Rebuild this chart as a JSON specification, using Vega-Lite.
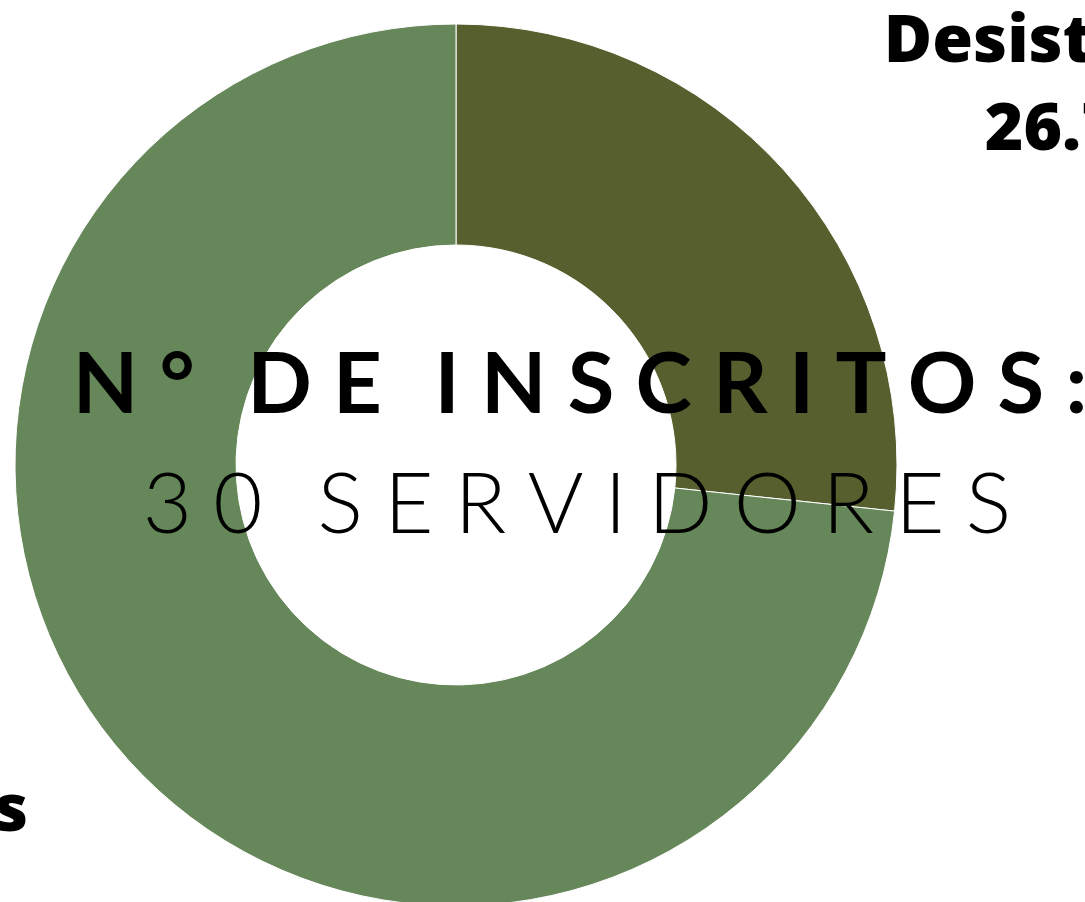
{
  "$schema": "https://vega.github.io/schema/vega-lite/v6.json",
  "width": 882,
  "height": 882,
  "autosize": {"type": "none"},
  "padding": {"left": 15, "top": 24, "right": 188, "bottom": 0},
  "background": "#ffffff",
  "config": {"view": {"stroke": null}},
  "datasets": {
    "fatias": [
      {"categoria": "Desistentes", "valor": 8, "rotulo": "Desistentes\n26.7%"},
      {"categoria": "Concluintes", "valor": 22, "rotulo": "Concluintes\n73.3%"}
    ],
    "centro": [
      {"linha1": "N\u2009\u200A\u200A°\u2009\u2009 \u2009D\u2009\u200A\u200AE\u2009\u2009 \u2009I\u2009\u200A\u200AN\u2009\u200A\u200AS\u2009\u200A\u200AC\u2009\u200A\u200AR\u2009\u200A\u200AI\u2009\u200A\u200AT\u2009\u200A\u200AO\u2009\u200A\u200AS\u2009\u200A\u200A:", "linha2": "3\u2009\u200A\u200A0\u2009\u2009 \u2009S\u2009\u200A\u200AE\u2009\u200A\u200AR\u2009\u200A\u200AV\u2009\u200A\u200AI\u2009\u200A\u200AD\u2009\u200A\u200AO\u2009\u200A\u200AR\u2009\u200A\u200AE\u2009\u200A\u200AS"}
    ]
  },
  "data": {"name": "fatias"},
  "layer": [
    {
      "mark": {"type": "arc", "outerRadius": 441, "innerRadius": 220, "stroke": "#ffffff", "strokeWidth": 1},
      "encoding": {
        "theta": {"field": "valor", "type": "quantitative", "stack": true},
        "order": {"field": "valor", "type": "quantitative", "sort": "ascending"},
        "color": {
          "field": "categoria",
          "type": "nominal",
          "scale": {"domain": ["Desistentes", "Concluintes"], "range": ["#565F2D", "#658759"]},
          "legend": null
        }
      }
    },
    {
      "mark": {"type": "text", "radius": 500, "dx": 256, "dy": -68, "align": "center", "baseline": "alphabetic", "font": "Open Sans", "fontWeight": 800, "fontSize": 66, "lineBreak": "\n", "lineHeight": 88, "color": "#000000"},
      "encoding": {
        "theta": {"field": "valor", "type": "quantitative", "stack": true},
        "order": {"field": "valor", "type": "quantitative", "sort": "ascending"},
        "detail": {"field": "categoria", "type": "nominal"},
        "text": {"condition": {"test": "datum.categoria === 'Desistentes'", "field": "rotulo", "type": "nominal"}, "value": ""}
      }
    },
    {
      "mark": {"type": "text", "radius": 500, "dx": -257, "dy": 31, "align": "center", "baseline": "alphabetic", "font": "Open Sans", "fontWeight": 800, "fontSize": 66, "lineBreak": "\n", "lineHeight": 88, "color": "#000000"},
      "encoding": {
        "theta": {"field": "valor", "type": "quantitative", "stack": true},
        "order": {"field": "valor", "type": "quantitative", "sort": "ascending"},
        "detail": {"field": "categoria", "type": "nominal"},
        "text": {"condition": {"test": "datum.categoria === 'Concluintes'", "field": "rotulo", "type": "nominal"}, "value": ""}
      }
    },
    {
      "data": {"name": "centro"},
      "mark": {"type": "text", "dx": 124, "dy": -52, "align": "center", "baseline": "alphabetic", "font": "Lato", "fontWeight": 700, "fontSize": 85, "color": "#000000"},
      "encoding": {"text": {"field": "linha1", "type": "nominal"}}
    },
    {
      "data": {"name": "centro"},
      "mark": {"type": "text", "dx": 121, "dy": 68, "align": "center", "baseline": "alphabetic", "font": "Lato", "fontWeight": 300, "fontSize": 85, "color": "#000000"},
      "encoding": {"text": {"field": "linha2", "type": "nominal"}}
    }
  ]
}
